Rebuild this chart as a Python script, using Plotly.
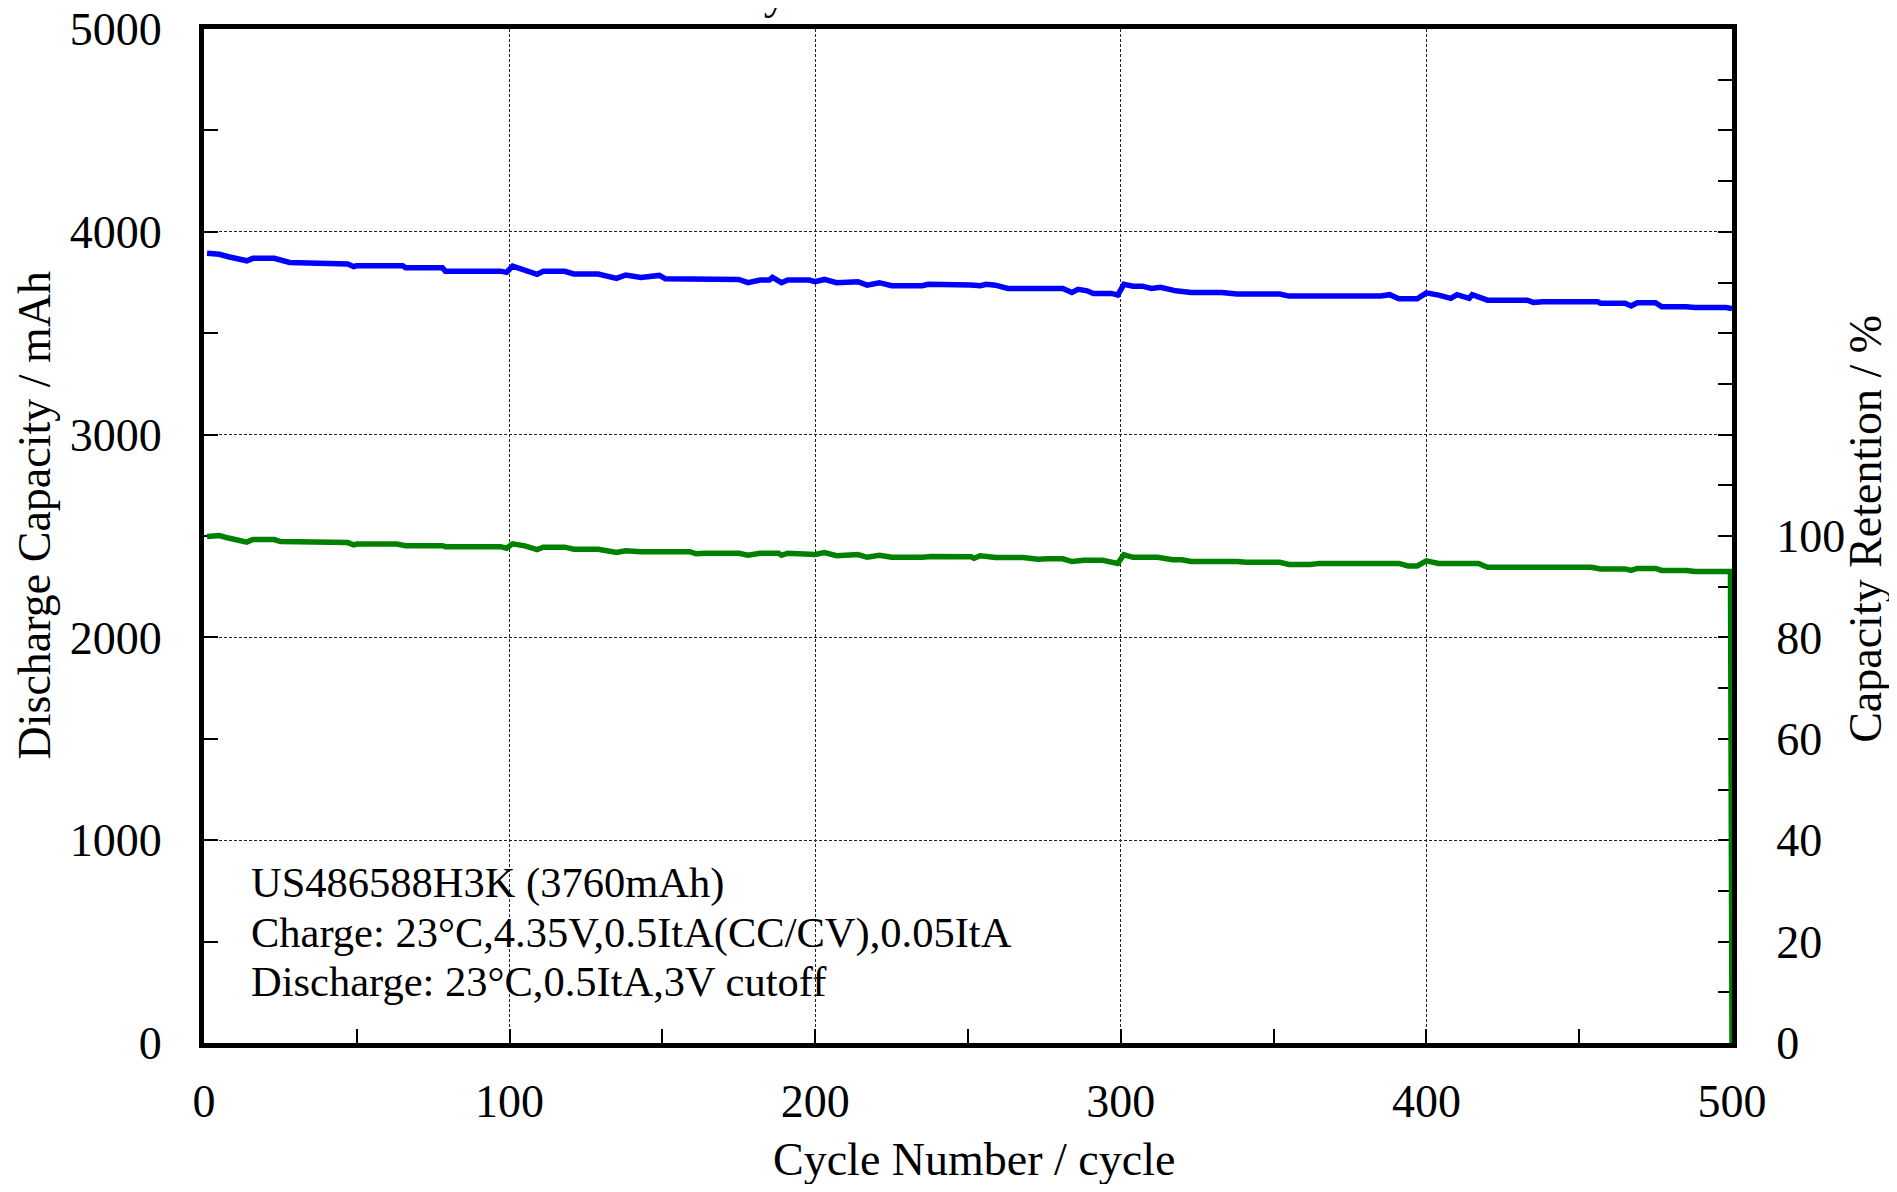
import plotly.graph_objects as go

# ---- data ----
cap_cycles = [1, 5, 8, 11, 14, 16, 23, 28, 39, 41, 47, 49, 50, 65, 66, 78, 79, 97, 99, 101,
              105, 109, 111, 118, 121, 129, 135, 138, 143, 149, 151, 159, 162, 164, 175, 178,
              182, 185, 186, 189, 191, 198, 200, 203, 207, 214, 217, 221, 225, 235, 237, 251,
              254, 256, 259, 263, 270, 273, 280, 281, 284, 286, 289, 291, 297, 299, 301, 304,
              307, 310, 313, 318, 323, 333, 338, 352, 355, 385, 388, 391, 397, 400, 404, 408,
              410, 414, 415, 420, 433, 435, 438, 456, 457, 465, 467, 469, 475, 477, 485, 488,
              498, 500]
cap_mah = [3894, 3889, 3877, 3864, 3857, 3869, 3869, 3849, 3847, 3841, 3841, 3828, 3833, 3833,
           3823, 3823, 3806, 3806, 3800, 3831, 3811, 3790, 3805, 3805, 3792, 3792, 3770, 3787,
           3775, 3785, 3768, 3768, 3762, 3765, 3765, 3749, 3762, 3762, 3775, 3749, 3762, 3762,
           3754, 3765, 3749, 3754, 3737, 3749, 3734, 3734, 3741, 3738, 3734, 3741, 3737, 3721,
           3721, 3716, 3716, 3721, 3701, 3716, 3709, 3696, 3696, 3688, 3741, 3732, 3732, 3721,
           3726, 3709, 3701, 3701, 3693, 3693, 3683, 3683, 3690, 3670, 3670, 3699, 3688, 3672,
           3690, 3672, 3690, 3663, 3663, 3652, 3655, 3655, 3648, 3648, 3634, 3650, 3650, 3630,
           3630, 3627, 3627, 3622]

ret_cycles = [1, 5, 8, 11, 14, 16, 23, 25, 28, 29, 47, 49, 50, 63, 66, 78, 79, 97, 99, 101,
              105, 109, 111, 118, 121, 129, 135, 138, 143, 159, 161, 164, 175, 178, 182, 188,
              189, 191, 198, 200, 203, 207, 214, 217, 221, 225, 235, 238, 251, 252, 254, 259,
              268, 273, 276, 281, 284, 288, 294, 297, 299, 301, 304, 312, 317, 320, 323, 338,
              341, 352, 355, 362, 365, 391, 394, 397, 400, 404, 417, 420, 454, 457, 465, 467,
              469, 475, 477, 485, 488, 499.5, 500]
ret_pct = [99.9, 100.1, 99.6, 99.2, 98.8, 99.3, 99.3, 98.9, 98.9, 98.7, 98.7, 98.25, 98.4, 98.4,
           98.1, 98.1, 97.9, 97.9, 97.6, 98.45, 98.05, 97.3, 97.8, 97.8, 97.4, 97.4, 96.75, 97.1,
           96.9, 96.9, 96.5, 96.6, 96.6, 96.2, 96.6, 96.6, 96.2, 96.6, 96.5, 96.35, 96.75, 96.1,
           96.35, 95.8, 96.2, 95.8, 95.8, 95.95, 95.9, 95.6, 96.1, 95.75, 95.75, 95.4, 95.5, 95.5,
           94.96, 95.2, 95.2, 94.8, 94.6, 96.3, 95.8, 95.8, 95.3, 95.3, 94.96, 94.96, 94.8, 94.8,
           94.4, 94.4, 94.6, 94.6, 94.1, 94.1, 95.1, 94.6, 94.6, 93.85, 93.85, 93.5, 93.5, 93.2,
           93.6, 93.6, 93.2, 93.2, 93.0, 93.0, 0.0]

x_ticks = [0, 100, 200, 300, 400, 500]
cap_ticks = [0, 1000, 2000, 3000, 4000, 5000]
ret_ticks = [0, 20, 40, 60, 80, 100]

chart_title = "Cycle Characteristics"
x_title = "Cycle Number / cycle"
y_title = "Discharge Capacity / mAh"
y2_title = "Capacity Retention / %"
info_lines = [
    "US486588H3K (3760mAh)",
    "Charge: 23°C,4.35V,0.5ItA(CC/CV),0.05ItA",
    "Discharge: 23°C,0.5ItA,3V cutoff",
]

FONT = "Liberation Serif"
OFF = 8  # page body margin
W, H = 1897 - 2 * OFF, 1192 - 2 * OFF
# plot-area edges in page pixels
L, R, T, B = 203.5 - OFF, 1732.0 - OFF, 28.75 - OFF, 1043.5 - OFF
pw, ph = R - L, B - T


def px(x):
    """page pixel x -> paper coordinate"""
    return (x - OFF - L) / pw


def py(y):
    """page pixel y -> paper coordinate"""
    return (B - (y - OFF)) / ph


fig = go.Figure()
fig.add_trace(go.Scatter(x=ret_cycles, y=ret_pct, mode="lines", yaxis="y2",
                         line=dict(color="#008000", width=5.5), name="Capacity Retention",
                         showlegend=False))
fig.add_trace(go.Scatter(x=cap_cycles, y=cap_mah, mode="lines",
                         line=dict(color="#0000FF", width=5.5), name="Discharge Capacity",
                         showlegend=False))

grid = dict(showgrid=True, gridcolor="#222222", gridwidth=1, griddash="3px,2px")
tick_common = dict(ticks="inside", ticklen=14, tickcolor="black", tickwidth=1.5)

fig.update_layout(
    width=W, height=H,
    margin=dict(l=L, r=W - R, t=T, b=H - B, autoexpand=False),
    paper_bgcolor="white", plot_bgcolor="white",
    font=dict(family=FONT, size=46, color="black"),
    xaxis=dict(range=[0, 500], tickvals=x_ticks, showline=True, linecolor="black",
               linewidth=5, mirror=True, zeroline=False, layer="below traces",
               ticklabelstandoff=14, ticklabeloverflow="allow",
               minor=dict(dtick=50, tick0=0, showgrid=False, **tick_common),
               tickfont=dict(family=FONT, size=46), **tick_common, **grid),
    yaxis=dict(range=[0, 5000], tickvals=cap_ticks, showline=True, linecolor="black",
               linewidth=5, mirror=True, zeroline=False, layer="below traces",
               ticklabelstandoff=28, ticklabeloverflow="allow",
               minor=dict(dtick=500, tick0=0, showgrid=False, **tick_common),
               tickfont=dict(family=FONT, size=46), **tick_common, **grid),
    yaxis2=dict(range=[0, 200], overlaying="y", side="right", tickvals=ret_ticks,
                showline=True, linecolor="black", linewidth=5, showgrid=False,
                zeroline=False, layer="below traces", ticklabelstandoff=30,
                ticklabeloverflow="allow",
                minor=dict(dtick=10, tick0=0, showgrid=False, **tick_common),
                tickfont=dict(family=FONT, size=46), **tick_common),
)

ann = []
# chart title, almost entirely above the top edge of the page (as in the reference)
ann.append(dict(text=chart_title, xref="paper", yref="paper",
                x=px(731), y=py(20), xanchor="left", yanchor="bottom",
                showarrow=False, font=dict(family=FONT, size=46)))
ann.append(dict(text=x_title, xref="paper", yref="paper",
                x=px(974), y=py(1160), xanchor="center", yanchor="middle",
                showarrow=False, font=dict(family=FONT, size=46)))
ann.append(dict(text=y_title, xref="paper", yref="paper",
                x=px(34), y=py(516), xanchor="center", yanchor="middle", textangle=-90,
                showarrow=False, font=dict(family=FONT, size=46)))
ann.append(dict(text=y2_title, xref="paper", yref="paper",
                x=px(1866), y=py(529), xanchor="center", yanchor="middle", textangle=-90,
                showarrow=False, font=dict(family=FONT, size=46)))
for line, yc in zip(info_lines, [883, 933, 982]):
    ann.append(dict(text=line, xref="paper", yref="paper", x=px(249), y=py(yc),
                    xanchor="left", yanchor="middle", showarrow=False,
                    font=dict(family=FONT, size=42.5)))
fig.update_layout(annotations=ann)

fig.write_html("out.html")
